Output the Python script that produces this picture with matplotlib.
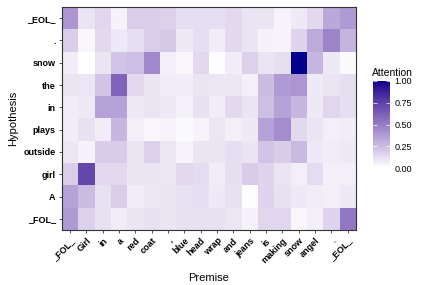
import numpy as np
import matplotlib
matplotlib.use("Agg")
import matplotlib.pyplot as plt
from matplotlib.colors import ListedColormap

plt.rcParams['font.family'] = ['Liberation Sans', 'DejaVu Sans']

premise = ['_FOL_', 'Girl', 'in', 'a', 'red', 'coat', ',', 'blue', 'head',
           'wrap', 'and', 'jeans', 'is', 'making', 'snow', 'angel', '.', '_EOL_']
# hypothesis tokens, top row first
hypothesis = ['_EOL_', '.', 'snow', 'the', 'in', 'plays', 'outside', 'girl', 'A', '_FOL_']

# attention weights, one row per hypothesis token (top to bottom)
att_eol = [0.40, 0.10, 0.15, 0.05, 0.18, 0.18, 0.17, 0.12, 0.12, 0.12, 0.14, 0.10, 0.10, 0.04, 0.08, 0.14, 0.33, 0.38]
att_dot = [0.18, 0.03, 0.14, 0.08, 0.12, 0.18, 0.20, 0.08, 0.12, 0.07, 0.14, 0.10, 0.05, 0.04, 0.16, 0.32, 0.47, 0.28]
att_snow = [0.07, 0.00, 0.10, 0.22, 0.24, 0.45, 0.06, 0.03, 0.14, 0.01, 0.07, 0.17, 0.10, 0.12, 1.00, 0.27, 0.08, 0.02]
att_the = [0.10, 0.09, 0.22, 0.60, 0.14, 0.10, 0.07, 0.07, 0.10, 0.09, 0.09, 0.06, 0.25, 0.38, 0.40, 0.08, 0.10, 0.12]
att_in = [0.07, 0.08, 0.35, 0.35, 0.08, 0.10, 0.08, 0.05, 0.11, 0.07, 0.14, 0.10, 0.24, 0.35, 0.27, 0.08, 0.15, 0.12]
att_plays = [0.07, 0.11, 0.07, 0.27, 0.06, 0.03, 0.04, 0.02, 0.04, 0.09, 0.06, 0.08, 0.35, 0.43, 0.14, 0.10, 0.06, 0.07]
att_outside = [0.09, 0.05, 0.19, 0.19, 0.10, 0.17, 0.09, 0.04, 0.10, 0.10, 0.12, 0.10, 0.22, 0.19, 0.26, 0.08, 0.07, 0.08]
att_girl = [0.18, 0.72, 0.14, 0.14, 0.10, 0.10, 0.09, 0.14, 0.13, 0.07, 0.12, 0.19, 0.16, 0.10, 0.06, 0.13, 0.06, 0.06]
att_a = [0.35, 0.25, 0.11, 0.18, 0.07, 0.09, 0.10, 0.11, 0.12, 0.08, 0.11, 0.01, 0.16, 0.11, 0.08, 0.07, 0.06, 0.08]
att_fol = [0.38, 0.17, 0.11, 0.07, 0.10, 0.11, 0.10, 0.11, 0.11, 0.11, 0.09, 0.05, 0.15, 0.15, 0.03, 0.06, 0.16, 0.52]

values = np.array([att_eol, att_dot, att_snow, att_the, att_in, att_plays,
                   att_outside, att_girl, att_a, att_fol])


# white -> darkblue gradient interpolated in Lab space (like ggplot)
def to_lab(rgb):
    rgb = np.asarray(rgb, float)
    lin = np.where(rgb <= 0.04045, rgb / 12.92, ((rgb + 0.055) / 1.055) ** 2.4)
    m = np.array([[0.4124, 0.3576, 0.1805],
                  [0.2126, 0.7152, 0.0722],
                  [0.0193, 0.1192, 0.9505]])
    xyz = m @ lin / np.array([0.95047, 1.0, 1.08883])
    f = np.where(xyz > 0.008856, np.cbrt(xyz), 7.787 * xyz + 16 / 116)
    return np.array([116 * f[1] - 16, 500 * (f[0] - f[1]), 200 * (f[1] - f[2])])


def from_lab(lab):
    L, a, b = lab
    fy = (L + 16) / 116
    fx = fy + a / 500
    fz = fy - b / 200
    f = np.array([fx, fy, fz])
    xyz = np.where(f ** 3 > 0.008856, f ** 3, (f - 16 / 116) / 7.787)
    xyz = xyz * np.array([0.95047, 1.0, 1.08883])
    m = np.array([[3.2406, -1.5372, -0.4986],
                  [-0.9689, 1.8758, 0.0415],
                  [0.0557, -0.2040, 1.0570]])
    lin = m @ xyz
    rgb = np.where(lin <= 0.0031308, 12.92 * lin, 1.055 * np.clip(lin, 0, None) ** (1 / 2.4) - 0.055)
    return np.clip(rgb, 0, 1)


lo = to_lab([1, 1, 1])
hi = to_lab([0, 0, 0x8B / 255])
cmap = ListedColormap([from_lab(lo + (hi - lo) * t) for t in np.linspace(0, 1, 256)])

W, H = 427, 285
fig = plt.figure(figsize=(W / 100, H / 100), dpi=100)
ax = fig.add_axes([62 / W, 1 - 230 / H, 294 / W, 223 / H])

im = ax.imshow(values, cmap=cmap, vmin=0, vmax=1, aspect='auto', interpolation='nearest')

ax.set_xticks(np.arange(len(premise)))
ax.set_xticklabels(premise, rotation=45, ha='right', va='top', rotation_mode='anchor',
                   fontsize=6.5, fontweight='bold')
ax.set_yticks(np.arange(len(hypothesis)))
ax.set_yticklabels(hypothesis, fontsize=6.5, fontweight='bold')
ax.tick_params(length=2.5, width=0.6, color='#333333', pad=2)
for s in ax.spines.values():
    s.set_color('#333333')
    s.set_linewidth(0.8)
ax.set_xlabel('Premise', fontsize=8, labelpad=6)
ax.set_ylabel('Hypothesis', fontsize=8, labelpad=4)

cax = fig.add_axes([373 / W, 1 - 168 / H, 17 / W, 87 / H])
cb = fig.colorbar(im, cax=cax)
cb.outline.set_visible(False)
cb.set_ticks([0, 0.25, 0.5, 0.75, 1.0])
cb.set_ticklabels(['0.00', '0.25', '0.50', '0.75', '1.00'])
cax.yaxis.set_ticks_position('both')
cax.tick_params(direction='in', length=3, width=0.5, color='white', labelsize=6.5, pad=3)
cax.yaxis.set_label_position('right')
fig.text(372 / W, 1 - 73 / H, 'Attention', fontsize=7.5, va='center', ha='left')

fig.savefig('out.png', dpi=100)
